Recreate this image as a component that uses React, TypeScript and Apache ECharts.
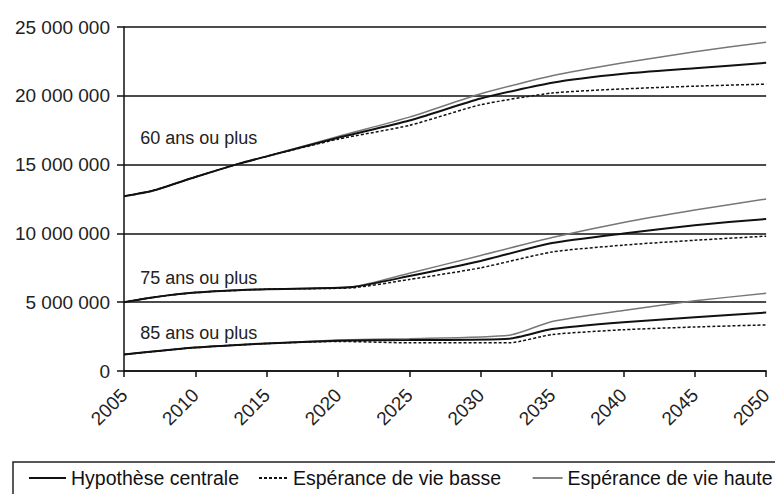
import React, { useEffect, useRef } from "react";
import * as echarts from "echarts";

// Years of the points read for each age group
const years60 = [2005, 2007, 2010, 2013, 2015, 2020, 2025, 2030, 2035, 2040, 2045, 2050];
const central60 = [12.7, 13.1, 14.1, 15.05, 15.6, 16.95, 18.2, 19.8, 20.95, 21.6, 22.0, 22.4];
const low60 = [12.7, 13.1, 14.1, 15.05, 15.6, 16.85, 17.85, 19.35, 20.2, 20.5, 20.7, 20.85];
const high60 = [12.7, 13.1, 14.1, 15.05, 15.6, 17.05, 18.45, 20.15, 21.45, 22.4, 23.2, 23.9];

const years75 = [2005, 2007, 2010, 2015, 2021, 2025, 2030, 2035, 2040, 2045, 2050];
const central75 = [5.0, 5.35, 5.7, 5.95, 6.1, 6.9, 8.0, 9.3, 10.0, 10.6, 11.05];
const low75 = [5.0, 5.35, 5.7, 5.95, 6.05, 6.65, 7.5, 8.65, 9.15, 9.5, 9.8];
const high75 = [5.0, 5.35, 5.7, 5.95, 6.1, 7.1, 8.4, 9.7, 10.8, 11.7, 12.5];

const years85 = [2005, 2010, 2015, 2020, 2025, 2032, 2035, 2040, 2045, 2050];
const central85 = [1.2, 1.7, 2.0, 2.2, 2.25, 2.35, 3.05, 3.55, 3.9, 4.25];
const low85 = [1.2, 1.7, 2.0, 2.15, 2.05, 2.05, 2.65, 3.0, 3.2, 3.35];
const high85 = [1.2, 1.7, 2.0, 2.25, 2.35, 2.6, 3.6, 4.4, 5.1, 5.65];

const seriesNames = ["Hypothèse centrale", "Espérance de vie basse", "Espérance de vie haute"];
const groupLabels = ["60 ans ou plus", "75 ans ou plus", "85 ans ou plus"];
// label anchor [year, millions]
const groupLabelAnchors = [
  [2006.1, 16.93],
  [2006.1, 6.76],
  [2006.1, 2.76],
];

const FONT = "'Liberation Sans', Arial, sans-serif";

const pairs = (ys: number[], vs: number[]) => ys.map((y, i) => [y, vs[i] * 1e6]);

const styles = [
  { color: "#111", width: 2, type: "solid" as any },
  { color: "#111", width: 1.5, type: [3, 2] as any },
  { color: "#777", width: 1.5, type: "solid" as any },
];

export default function App() {
  const ref = useRef<HTMLDivElement>(null);
  useEffect(() => {
    if (!ref.current) return;
    const chart = echarts.init(ref.current, undefined, { renderer: "svg" });
    const groups = [
      { years: years60, data: [central60, low60, high60] },
      { years: years75, data: [central75, low75, high75] },
      { years: years85, data: [central85, low85, high85] },
    ];
    const series: any[] = [];
    groups.forEach((g, gi) => {
      g.data.forEach((vals, si) => {
        const s: any = {
          type: "line",
          name: seriesNames[si],
          data: pairs(g.years, vals),
          showSymbol: false,
          symbol: "none",
          smooth: 0.2,
          lineStyle: styles[si],
          itemStyle: { color: styles[si].color },
          z: 3 - si,
        };
        if (si === 0) {
          s.markPoint = {
            symbol: "circle",
            symbolSize: 1,
            itemStyle: { color: "rgba(0,0,0,0)" },
            label: {
              show: true,
              position: "right",
              distance: 0,
              color: "#222",
              fontSize: 18,
              fontFamily: FONT,
              formatter: groupLabels[gi],
            },
            data: [
              {
                coord: [groupLabelAnchors[gi][0], groupLabelAnchors[gi][1] * 1e6],
              },
            ],
          };
        }
        series.push(s);
      });
    });

    const legendBase = {
      top: 468,
      padding: 0,
      itemHeight: 14,
      itemStyle: { opacity: 0 },
      textStyle: { color: "#111", fontSize: 19.5, fontFamily: FONT },
      selectedMode: false,
    };

    chart.setOption({
      animation: false,
      backgroundColor: "#fff",
      grid: { left: 124, right: 6, top: 27, bottom: 123 },
      xAxis: {
        type: "value",
        min: 2005,
        max: 2050,
        interval: 5,
        axisLine: { show: true, lineStyle: { color: "#111", width: 1.5 } },
        axisTick: { show: true, length: 6, lineStyle: { color: "#111", width: 1.5 } },
        splitLine: { show: false },
        axisLabel: {
          rotate: 45,
          color: "#222",
          fontSize: 19,
          fontFamily: FONT,
          margin: 21,
          formatter: (v: number) => String(v),
        },
      },
      yAxis: {
        type: "value",
        min: 0,
        max: 25000000,
        interval: 5000000,
        axisLine: { show: true, lineStyle: { color: "#111", width: 1.5 } },
        axisTick: { show: true, length: 7, lineStyle: { color: "#111", width: 1.5 } },
        splitLine: { show: true, lineStyle: { color: "#111", width: 1.5 } },
        axisLabel: {
          color: "#222",
          fontSize: 19,
          fontFamily: FONT,
          margin: 14,
          formatter: (v: number) => String(Math.round(v)).replace(/\B(?=(\d{3})+(?!\d))/g, " "),
        },
      },
      legend: [
        { ...legendBase, left: 28, itemWidth: 37, data: [seriesNames[0]] },
        { ...legendBase, left: 258, itemWidth: 29, data: [seriesNames[1]] },
        {
          ...legendBase,
          left: 532,
          itemWidth: 30,
          data: [seriesNames[2]],
          lineStyle: { color: "#333", width: 1.2 },
        },
      ],
      graphic: [
        {
          type: "rect",
          shape: { x: 13, y: 462, width: 800, height: 60 },
          style: { fill: "none", stroke: "#222", lineWidth: 1.5 },
          silent: true,
        },
      ],
      series,
    });
    return () => chart.dispose();
  }, []);
  return <div ref={ref} style={{ width: 775, height: 494, position: "absolute", left: 0, top: 0 }} />;
}
